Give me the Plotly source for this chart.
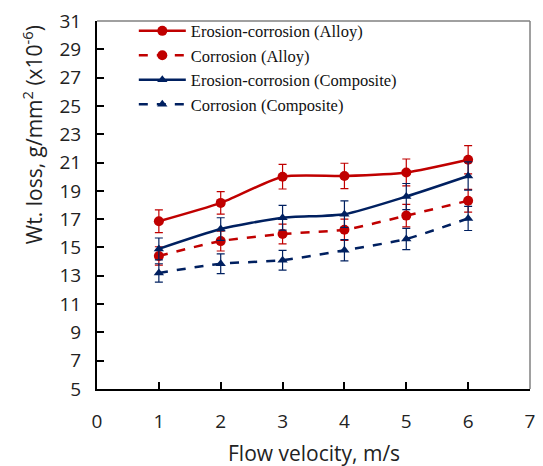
import plotly.graph_objects as go

velocity = [1, 2, 3, 4, 5, 6]
ec_alloy = [16.85, 18.15, 20.0, 20.05, 20.3, 21.2]
ec_alloy_err = [0.8, 0.8, 0.87, 0.9, 0.95, 1.0]
c_alloy = [14.4, 15.45, 15.95, 16.25, 17.25, 18.3]
c_alloy_err = [0.65, 0.7, 0.7, 0.75, 0.8, 0.8]
ec_comp = [14.9, 16.3, 17.1, 17.35, 18.6, 20.05]
ec_comp_err = [0.77, 0.8, 0.87, 0.94, 0.92, 1.0]
c_comp = [13.2, 13.85, 14.1, 14.8, 15.6, 17.05]
c_comp_err = [0.65, 0.7, 0.7, 0.75, 0.75, 0.85]

names = ["Erosion-corrosion (Alloy)", "Corrosion (Alloy)",
         "Erosion-corrosion (Composite)", "Corrosion (Composite)"]
x_title = "Flow velocity, m/s"
y_title = "Wt. loss, g/mm<sup>2</sup> (x10<sup>-6</sup>)"
RED = "#C00000"
NAVY = "#002060"

series = [
    (ec_alloy, ec_alloy_err, RED, "solid", "circle"),
    (c_alloy, c_alloy_err, RED, "dash", "circle"),
    (ec_comp, ec_comp_err, NAVY, "solid", "triangle-up"),
    (c_comp, c_comp_err, NAVY, "dash", "triangle-up"),
]

fig = go.Figure()
for name, (vals, err, col, dash, sym) in zip(names, series):
    fig.add_trace(go.Scatter(
        x=velocity, y=vals, name=name, mode="lines+markers",
        line=dict(color=col, width=2.5, dash=dash, shape="spline", smoothing=0.6),
        marker=dict(color=col, symbol=sym, size=10 if sym == "circle" else 9),
        error_y=dict(type="data", array=err, visible=True, color=col,
                     thickness=1.2, width=4),
    ))

fig.update_layout(
    width=543, height=466,
    margin=dict(l=97, r=8, t=17, b=77),
    plot_bgcolor="white", paper_bgcolor="white",
    font=dict(family="Open Sans", color="#222"),
    legend=dict(x=0.085, y=1.02, xanchor="left", yanchor="top",
                bgcolor="rgba(0,0,0,0)", tracegroupgap=0,
                font=dict(family="Liberation Serif", size=16.5, color="#111"),
                itemwidth=47),
    shapes=[
        dict(type="line", xref="paper", yref="paper", x0=0, x1=1, y0=1, y1=1,
             line=dict(color="#808080", width=1.5)),
        dict(type="line", xref="paper", yref="paper", x0=1, x1=1, y0=0, y1=1,
             line=dict(color="#808080", width=1.5)),
    ],
    annotations=[
        dict(text=y_title, textangle=-90, xref="paper", yref="paper",
             x=-0.15, y=0.69, xanchor="center", yanchor="middle", showarrow=False,
             font=dict(size=21, family="Open Sans", color="#222")),
        dict(text=x_title, xref="paper", yref="paper",
             x=0.5, y=-0.175, xanchor="center", yanchor="middle", showarrow=False,
             font=dict(size=21, family="Open Sans", color="#222")),
    ],
)
fig.update_xaxes(
    range=[0, 7], tickmode="array", tickvals=list(range(8)),
    ticks="inside", ticklen=7, tickwidth=2, tickcolor="black",
    showline=True, linecolor="black", linewidth=2, showgrid=False, zeroline=False,
    tickfont=dict(size=19, family="Open Sans"), ticklabelstandoff=14,
)
fig.update_yaxes(
    range=[5, 31], tickmode="array", tickvals=list(range(5, 32, 2)),
    ticks="inside", ticklen=7, tickwidth=2, tickcolor="black",
    showline=True, linecolor="black", linewidth=2, showgrid=False, zeroline=False,
    tickfont=dict(size=19, family="Open Sans"), ticklabelstandoff=10,
)

fig.write_html("out.html")
